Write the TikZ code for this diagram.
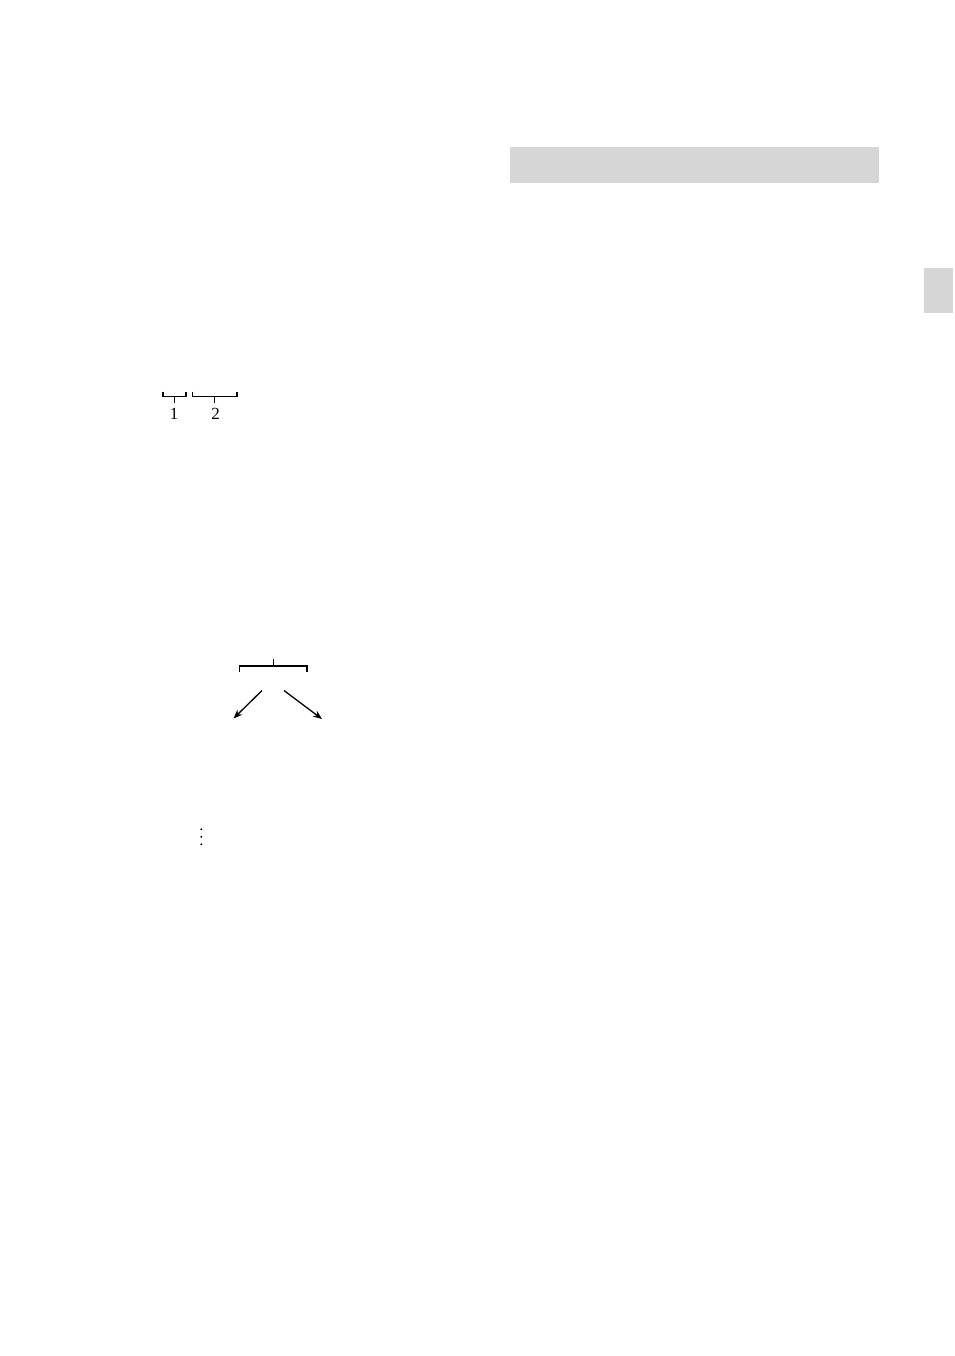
\documentclass[tikz,border=0pt]{standalone}
\usepackage{fontspec}
\setmainfont{Liberation Serif}
\usetikzlibrary{arrows.meta}
\begin{document}
\begin{tikzpicture}[x=1pt,y=-1pt,
  graybox/.style={fill=black!16,draw=none},
  brk/.style={line width=1.6pt,line cap=butt},
  tick/.style={line width=1pt},
  lbl/.style={font=\fontsize{17}{20}\selectfont,inner sep=0pt,anchor=center},
  arr/.style={line width=1.3pt,-{Stealth[length=9pt,width=7pt]}},
  dotm/.style={fill=black,draw=none}]
\useasboundingbox (0,0) rectangle (954,1356);
% gray bars
\fill[graybox] (510,147) rectangle (879,183);
\fill[graybox] (924,268) rectangle (953,313);
% bracket 1 and 2
\draw[brk] (163,391.5) -- (163,396.5) -- (186,396.5) -- (186,391.5);
\draw[brk] (192.5,391.5) -- (192.5,396.5) -- (237,396.5) -- (237,391.5);
\coordinate (b1) at (174.5,396.5);
\coordinate (b2) at (214.5,396.5);
\node[lbl] (n1) at (174,414) {1};
\node[lbl] (n2) at (215.5,414) {2};
\draw[tick] (b1) -- ++(0,6.5);
\draw[tick] (b2) -- ++(0,6.5);
% lower bracket
\draw[brk] (239.5,671.5) -- (239.5,666) -- (307,666) -- (307,671.5);
\coordinate (bt) at (273.5,666);
\draw[tick] (bt) -- ++(0,-7);
% arrows
\coordinate (la) at (262,690.5);
\coordinate (lb) at (233.5,718.5);
\coordinate (ra) at (284,690.5);
\coordinate (rb) at (322,719);
\draw[arr] (la) -- (lb);
\draw[arr] (ra) -- (rb);
% vertical dots
\fill[dotm] (201.3,829.3) circle (1.1);
\fill[dotm] (201.3,836.8) circle (1.1);
\fill[dotm] (201.3,844.3) circle (1.1);
\end{tikzpicture}
\end{document}
